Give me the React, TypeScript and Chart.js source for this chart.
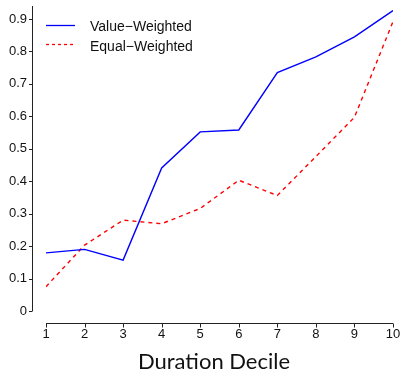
import React, { useEffect, useRef } from "react";
import { Chart, registerables } from "chart.js";

Chart.register(...registerables);

const deciles = [1, 2, 3, 4, 5, 6, 7, 8, 9, 10];
const valueWeighted = [0.179, 0.19, 0.157, 0.441, 0.552, 0.558, 0.735, 0.783, 0.845, 0.926];
const equalWeighted = [0.075, 0.203, 0.28, 0.269, 0.316, 0.403, 0.356, 0.476, 0.597, 0.892];
const yTicks = [0, 0.1, 0.2, 0.3, 0.4, 0.5, 0.6, 0.7, 0.8, 0.9];
const yTickLabels = ["0", "0.1", "0.2", "0.3", "0.4", "0.5", "0.6", "0.7", "0.8", "0.9"];
const seriesNames = ["Value\u2212Weighted", "Equal\u2212Weighted"];
const xTitle = "Duration Decile";

const TICK_FONT = "Liberation Sans";

const decorPlugin = {
  id: "decor",
  afterDraw(chart: any) {
    const ctx = chart.ctx;
    const xs = chart.scales.x;
    const ys = chart.scales.y;
    ctx.save();
    ctx.strokeStyle = "#222";
    ctx.lineWidth = 1;
    // y axis line
    const yAxisX = 32.5;
    ctx.beginPath();
    ctx.moveTo(yAxisX, ys.getPixelForValue(0));
    ctx.lineTo(yAxisX, chart.chartArea.top);
    ctx.stroke();
    yTicks.forEach((v) => {
      const py = Math.round(ys.getPixelForValue(v)) + 0.5;
      ctx.beginPath();
      ctx.moveTo(yAxisX - 3.5, py);
      ctx.lineTo(yAxisX, py);
      ctx.stroke();
    });
    // x axis line
    const xAxisY = 323.5;
    ctx.beginPath();
    ctx.moveTo(xs.getPixelForValue(deciles[0]), xAxisY);
    ctx.lineTo(xs.getPixelForValue(deciles[deciles.length - 1]), xAxisY);
    ctx.stroke();
    deciles.forEach((d) => {
      const px = Math.round(xs.getPixelForValue(d)) + 0.5;
      ctx.beginPath();
      ctx.moveTo(px, xAxisY);
      ctx.lineTo(px, xAxisY + 4);
      ctx.stroke();
    });
    // title
    ctx.fillStyle = "#111";
    ctx.font = "22px Lato";
    ctx.textAlign = "center";
    ctx.textBaseline = "alphabetic";
    ctx.fillText(xTitle, 214, 369);
    // legend
    ctx.font = "14px " + TICK_FONT;
    ctx.textAlign = "left";
    ctx.lineWidth = 1.3;
    ctx.strokeStyle = "#0000ff";
    ctx.setLineDash([]);
    ctx.beginPath();
    ctx.moveTo(46, 25.5);
    ctx.lineTo(75, 25.5);
    ctx.stroke();
    ctx.strokeStyle = "#ff0000";
    ctx.setLineDash([3, 3]);
    ctx.beginPath();
    ctx.moveTo(46, 44.5);
    ctx.lineTo(75, 44.5);
    ctx.stroke();
    ctx.setLineDash([]);
    ctx.fillStyle = "#111";
    ctx.fillText(seriesNames[0], 90, 31);
    ctx.fillText(seriesNames[1], 90, 50.5);
    ctx.restore();
  },
};

const zeroPad = (s: any) => {
  s.paddingTop = 0;
  s.paddingBottom = 0;
  s.paddingLeft = 0;
  s.paddingRight = 0;
};

export default function App() {
  const ref = useRef<HTMLCanvasElement>(null);
  useEffect(() => {
    if (!ref.current) return;
    const chart = new Chart(ref.current, {
      type: "line",
      data: {
        datasets: [
          {
            label: seriesNames[0],
            data: deciles.map((d, i) => ({ x: d, y: valueWeighted[i] })),
            borderColor: "#0000ff",
            borderWidth: 1.4,
            pointRadius: 0,
            tension: 0,
            fill: false,
          },
          {
            label: seriesNames[1],
            data: deciles.map((d, i) => ({ x: d, y: equalWeighted[i] })),
            borderColor: "#ff0000",
            borderWidth: 1.4,
            borderDash: [4, 4],
            pointRadius: 0,
            tension: 0,
            fill: false,
          },
        ],
      },
      options: {
        animation: false,
        responsive: false,
        devicePixelRatio: 1,
        layout: { padding: { top: 6, right: 8, left: 0, bottom: 0 } },
        plugins: { legend: { display: false }, tooltip: { enabled: false }, title: { display: false } },
        scales: {
          x: {
            type: "linear",
            min: 1,
            max: 10,
            grid: { display: false, drawTicks: false },
            border: { display: false },
            afterBuildTicks: (s: any) => {
              s.ticks = deciles.map((v) => ({ value: v }));
            },
            afterFit: (s: any) => {
              s.height = 60;
              zeroPad(s);
            },
            ticks: {
              color: "#111",
              font: { family: TICK_FONT, size: 13 },
              padding: 16,
              maxRotation: 0,
              autoSkip: false,
              callback: (v: any) => String(v),
            },
          },
          y: {
            type: "linear",
            min: 0,
            max: 0.94,
            grid: { display: false, drawTicks: false },
            border: { display: false },
            afterBuildTicks: (s: any) => {
              s.ticks = yTicks.map((v) => ({ value: v }));
            },
            afterFit: (s: any) => {
              s.width = 46;
              zeroPad(s);
            },
            ticks: {
              color: "#111",
              font: { family: TICK_FONT, size: 13 },
              padding: 19,
              autoSkip: false,
              callback: (v: any) => {
                const i = yTicks.findIndex((t) => Math.abs(t - v) < 1e-9);
                return i >= 0 ? yTickLabels[i] : "";
              },
            },
          },
        },
      },
      plugins: [decorPlugin],
    });
    return () => chart.destroy();
  }, []);
  return (
    <div style={{ position: "fixed", left: 0, top: 0, width: 401, height: 371, background: "#fff" }}>
      <canvas ref={ref} width={401} height={371} style={{ width: 401, height: 371 }} />
    </div>
  );
}
